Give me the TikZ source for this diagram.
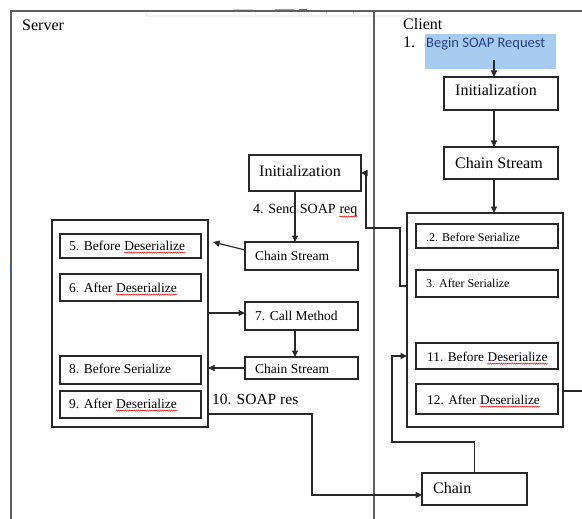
\documentclass[tikz,border=0pt]{standalone}
\usepackage{fontspec}
\setmainfont{Liberation Serif}
\newfontfamily\calibrifont{Carlito}
\usetikzlibrary{arrows.meta,decorations.pathmorphing}

\newcommand\fsz[1]{\fontsize{#1}{#1}\selectfont}
\definecolor{hilite}{RGB}{168,203,240}
\definecolor{linkblue}{RGB}{38,66,132}
\definecolor{rulegray}{RGB}{95,95,95}
\definecolor{ink}{RGB}{40,40,40}

\tikzset{
  frameline/.style={draw=rulegray, line width=1.2pt},
  box/.style={draw=ink, line width=1.1pt, anchor=north west, inner sep=0pt, outer sep=0pt},
  txt/.style={anchor=base west, inner sep=0pt, text=black},
  big/.style={txt, font=\fsz{16}},
  mid/.style={txt, font=\fsz{13.5}},
  sml/.style={txt, font=\fsz{12}},
  conn/.style={draw=ink, line width=1.1pt},
  arr/.style={conn, -{Triangle[length=6.5pt,width=6pt]}},
  wave/.style={draw=red!90!black, line width=0.45pt, decorate,
    decoration={snake, amplitude=0.7pt, segment length=2.2pt}},
}

\begin{document}
\begin{tikzpicture}[x=1pt,y=-1pt]
\useasboundingbox (0,0) rectangle (582,519);
\fill[white] (0,0) rectangle (582,519);

% faint toolbar strip along the top edge
\draw[black!14, line width=0.6pt, rounded corners=1.5pt] (146,11) rectangle (410,16);
\fill[yellow!75!black!55] (233,8.6) rectangle (253,10.6);
\fill[red!55] (275,8.6) rectangle (294,10.6);
\fill[blue!45!black!60] (299,8.6) rectangle (307,10.6);
\draw[black!20, line width=0.5pt] (326,11) -- (326,14) (353,11) -- (353,14);

% page frame and column divider
\coordinate (fTL) at (11,11);
\coordinate (fTR) at (582,11);
\coordinate (fBL) at (11,519);
\coordinate (dTop) at (374,11);
\coordinate (dBot) at (374,519);
\draw[frameline] (fBL) -- (fTL) -- (fTR);
\draw[frameline] (dTop) -- (dBot);
\draw[draw={rgb,255:red,60;green,90;blue,150}, line width=1.4pt] (10.5,265) -- (10.5,273);

% column headings
\node[big] (server) at (22,31) {Server};
\node[big] (client) at (403,30) {Client};

% client side
\node[fill=hilite, anchor=north west, inner sep=0pt, minimum width=131pt, minimum height=35pt] (hl) at (425,34) {};
\node[big] (num1) at (403,48) {1.};
\node[txt, font=\calibrifont\fsz{14.5}, text=linkblue] (begin) at (426,48) {Begin SOAP Request};

\node[box, minimum width=114pt, minimum height=33pt] (cinit) at (444,77) {};
\node[big] (cinitT) at (455,96) {Initialization};
\node[box, minimum width=114pt, minimum height=32pt] (cchain) at (444,147) {};
\node[big] (cchainT) at (455,168) {Chain Stream};

\node[box, minimum width=156pt, minimum height=214pt] (cbox) at (407,213) {};
\node[box, minimum width=142pt, minimum height=24pt] (b2) at (416,224) {};
\node[sml] (b2T) at (426,241) {.2. Before Serialize};
\node[box, minimum width=142pt, minimum height=27pt] (b3) at (416,270) {};
\node[sml] (b3T) at (426,287) {3. After Serialize};
\node[box, minimum width=142pt, minimum height=26pt] (b11) at (416,343) {};
\node[txt, font=\fsz{13.3}] (b11a) at (427,361) {11. Before};
\node[txt, font=\fsz{13.3}] (b11b) at ([xshift=3.3pt]b11a.base east) {Deserialize};
\node[box, minimum width=142pt, minimum height=30pt] (b12) at (416,384) {};
\node[txt, font=\fsz{13.3}] (b12a) at (427,404) {12. After};
\node[txt, font=\fsz{13.3}] (b12b) at ([xshift=3.3pt]b12a.base east) {Deserialize};

\node[box, minimum width=105pt, minimum height=32pt] (chain) at (422,473) {};
\node[big] (chainT) at (433,493) {Chain};

% server side
\node[box, minimum width=112pt, minimum height=36pt] (sinit) at (249,155) {};
\node[big] (sinitT) at (259,177) {Initialization};
\node[txt, font=\fsz{14}] (senda) at (253,214) {4. Send SOAP};
\node[txt, font=\fsz{14}] (sendb) at ([xshift=3.5pt]senda.base east) {req};

\node[box, minimum width=113pt, minimum height=28pt] (schain1) at (245,242) {};
\node[mid] (schain1T) at (255,260) {Chain Stream};
\node[box, minimum width=113pt, minimum height=28pt] (call) at (245,302) {};
\node[mid] (callT) at (255,320) {7. Call Method};
\node[box, minimum width=113pt, minimum height=22pt] (schain2) at (245,357) {};
\node[mid] (schain2T) at (255,373) {Chain Stream};
\node[txt, font=\fsz{15.5}] (res) at (212,404) {10. SOAP res};

\node[box, minimum width=156pt, minimum height=207pt] (sbox) at (52,220) {};
\node[box, minimum width=141pt, minimum height=24pt] (b5) at (60,234) {};
\node[mid] (b5a) at (69,250) {5. Before};
\node[mid] (b5b) at ([xshift=3.4pt]b5a.base east) {Deserialize};
\node[box, minimum width=141pt, minimum height=27pt] (b6) at (60,274) {};
\node[mid] (b6a) at (69,292) {6. After};
\node[mid] (b6b) at ([xshift=3.4pt]b6a.base east) {Deserialize};
\node[box, minimum width=141pt, minimum height=28pt] (b8) at (60,356) {};
\node[mid] (b8T) at (69,373) {8. Before Serialize};
\node[box, minimum width=141pt, minimum height=27pt] (b9) at (60,391) {};
\node[mid] (b9a) at (69,408) {9. After};
\node[mid] (b9b) at ([xshift=3.4pt]b9a.base east) {Deserialize};

% spell-check underlines
\foreach \w in {b5b,b6b,b9b,b11b,b12b,sendb}
  \draw[wave] ([yshift=-2.6pt]\w.base west) -- ([yshift=-2.6pt]\w.base east);

% client flow
\coordinate (reqfoot) at (494,60);
\draw[arr] (reqfoot) -- (reqfoot |- cinit.north);
\draw[arr] (reqfoot |- cinit.south) -- (reqfoot |- cchain.north);
\draw[arr] (reqfoot |- cchain.south) -- (reqfoot |- cbox.north);

% after serialize -> server initialization
\coordinate (serout) at ([yshift=-2.5pt]b3.center -| cbox.west);
\coordinate (jogA) at (400,228);
\coordinate (jogB) at (366,228);
\draw[arr] (serout) -| (jogA) -- (jogB) |- (sinit.east);

% server flow
\coordinate (sx) at (295,0);
\draw[arr] (sx |- sinit.south) -- (sx |- schain1.north);
\coordinate (tipfive) at (213,242);
\draw[arr] ([yshift=6pt]schain1.west) -- (tipfive);
\coordinate (callin) at ([yshift=3pt]call.west);
\draw[arr] (sbox.east |- callin) -- (callin);
\draw[arr] (sx |- call.south) -- (sx |- schain2.north);
\draw[arr] (schain2.west) -- (sbox.east |- schain2.west);

% response back to the client
\coordinate (resout) at ([yshift=13pt]sbox.south east);
\coordinate (chainin) at ([yshift=-6pt]chain.west);
\draw[arr] (resout) -- ++(104,0) |- (chainin);
\coordinate (loopc) at (392,442);
\draw[arr] (chain.north) |- (loopc) |- (cbox.west |- b11.west);
\coordinate (offedge) at (582,391);
\draw[conn] (offedge -| cbox.east) -- (offedge);
\end{tikzpicture}
\end{document}
